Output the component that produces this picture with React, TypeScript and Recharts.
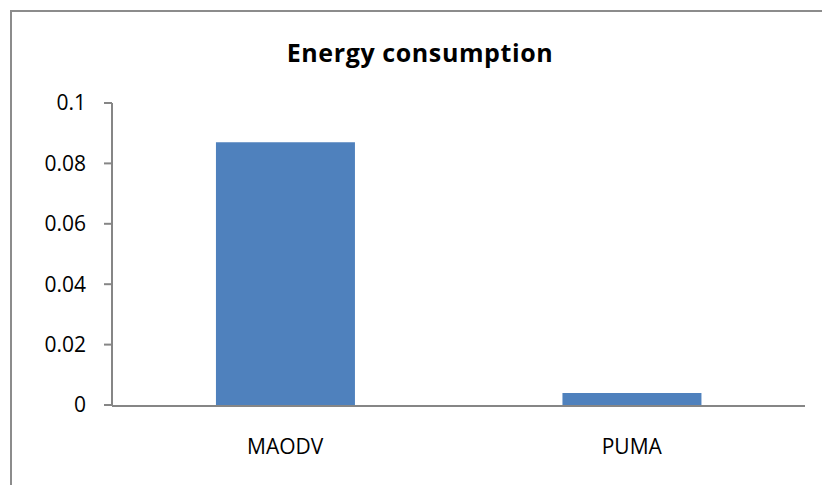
import { BarChart, Bar, XAxis, YAxis } from "recharts";

const protocols = ["MAODV", "PUMA"];
const energy = [0.087, 0.004];
const yTicks = [0, 0.02, 0.04, 0.06, 0.08, 0.1];
const dividerTicks = [0, 1, 2];

const data = protocols.map((name, i) => ({ name, energy: energy[i] }));

const FONT = "'Open Sans', 'Liberation Sans', sans-serif";
const AXIS = "#868686";

export default function App() {
  return (
    <div style={{ position: "absolute", left: 0, top: 0, width: 822, height: 485, background: "#fff", fontFamily: FONT }}>
      <div
        style={{
          position: "absolute",
          left: 10,
          top: 10,
          width: 812,
          height: 475,
          borderTop: "2px solid #8c8c8c",
          borderLeft: "2px solid #8c8c8c",
        }}
      />
      <div
        style={{
          position: "absolute",
          left: 0,
          top: 35,
          width: 840,
          textAlign: "center",
          fontSize: 25,
          letterSpacing: 0.6,
          fontWeight: 700,
          color: "#000",
          lineHeight: "normal",
        }}
      >
        Energy consumption
      </div>
      <BarChart
        width={822}
        height={485}
        data={data}
        margin={{ top: 103, right: 17, bottom: 78, left: 0 }}
        barCategoryGap="30%"
        style={{ position: "absolute", left: 0, top: 0 }}
      >
        {/* category labels; thin so the divider axis below sits on the plot edge */}
        <XAxis
          dataKey="name"
          axisLine={false}
          tickLine={false}
          tickSize={0}
          tickMargin={34}
          height={1}
          tick={{ fill: "#000", fontSize: 21, fontFamily: FONT }}
        />
        {/* axis line with ticks between categories, Excel style */}
        <XAxis
          xAxisId="div"
          type="number"
          domain={[0, 2]}
          allowDataOverflow
          ticks={dividerTicks}
          tick={false}
          tickSize={8}
          height={1}
          axisLine={{ stroke: AXIS, strokeWidth: 2 }}
          tickLine={{ stroke: AXIS, strokeWidth: 2 }}
        />
        <YAxis
          domain={[0, 0.1]}
          ticks={yTicks}
          width={112}
          tickSize={8}
          tickMargin={18}
          axisLine={{ stroke: AXIS, strokeWidth: 2 }}
          tickLine={{ stroke: AXIS, strokeWidth: 2 }}
          tick={{ fill: "#000", fontSize: 21, fontFamily: FONT }}
        />
        <Bar dataKey="energy" fill="#4F81BD" isAnimationActive={false} />
      </BarChart>
    </div>
  );
}
